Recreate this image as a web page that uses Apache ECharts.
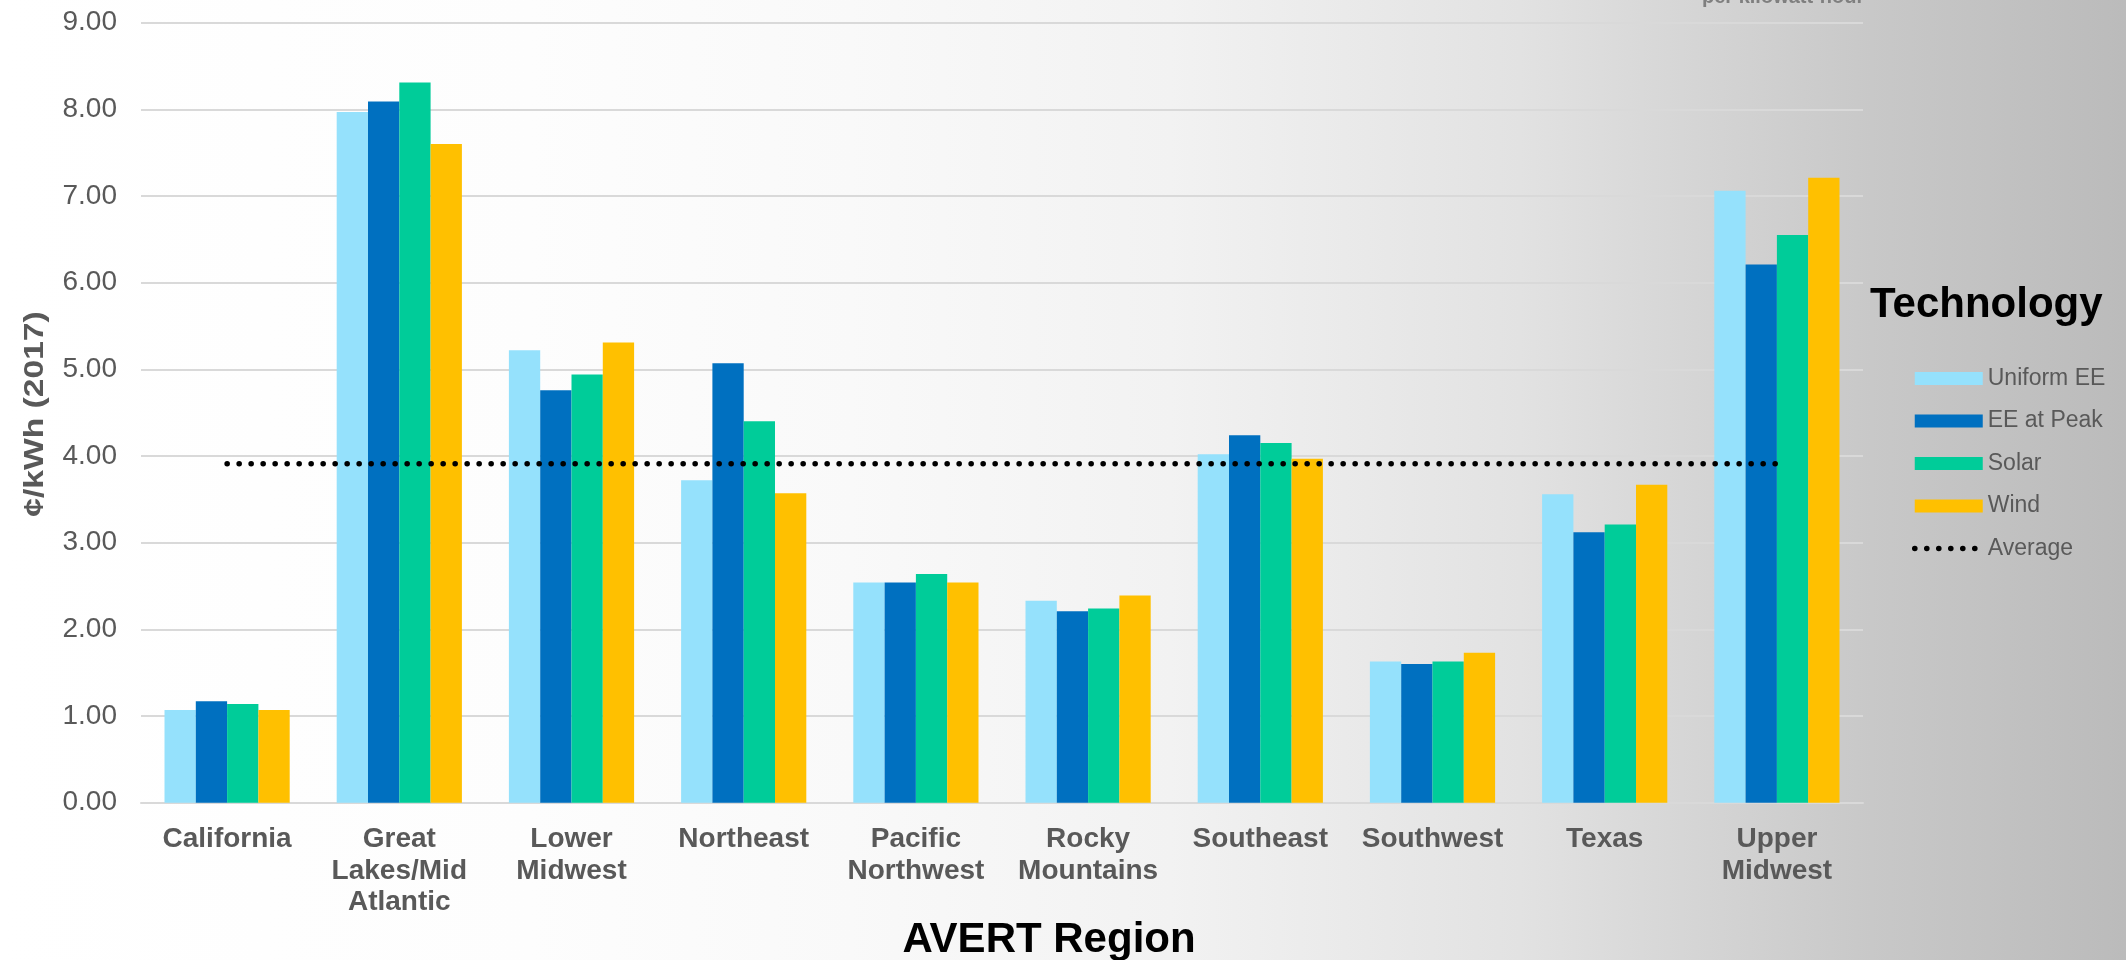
<!DOCTYPE html>
<html>
<head>
<meta charset="utf-8">
<script src="https://cdn.jsdelivr.net/npm/echarts@6/dist/echarts.min.js"></script>
<style>
html,body{margin:0;padding:0;width:2126px;height:960px;overflow:hidden;
background:linear-gradient(to right,#ffffff 0%,#fdfdfd 25%,#f9f9f9 40%,#f2f2f2 55%,#e2e2e2 71.5%,#c8c8c8 88%,#bbbbbb 100%);}
#chart{width:2126px;height:960px;}
</style>
</head>
<body>
<div id="chart"></div>
<script>
var categories = ['California','Great\nLakes/Mid\nAtlantic','Lower\nMidwest','Northeast','Pacific\nNorthwest','Rocky\nMountains','Southeast','Southwest','Texas','Upper\nMidwest'];
var uniformEE = [1.07, 7.97, 5.22, 3.72, 2.54, 2.33, 4.02, 1.63, 3.56, 7.06];
var eeAtPeak  = [1.17, 8.09, 4.76, 5.07, 2.54, 2.21, 4.24, 1.60, 3.12, 6.21];
var solar     = [1.14, 8.31, 4.94, 4.40, 2.64, 2.24, 4.15, 1.63, 3.21, 6.55];
var wind      = [1.07, 7.60, 5.31, 3.57, 2.54, 2.39, 3.97, 1.73, 3.67, 7.21];
var average   = [3.91, 3.91, 3.91, 3.91, 3.91, 3.91, 3.91, 3.91, 3.91, 3.91];
var yTicks    = [0, 1, 2, 3, 4, 5, 6, 7, 8, 9];

var chart = echarts.init(document.getElementById('chart'), null, {renderer:'canvas'});
var FONT = 'Liberation Sans, Arial, sans-serif';
var dotStyle = {color:'#000000', width:5.5, type:[0.1, 11.9], cap:'round'};
function bar(name, data, color){
  return {name:name, type:'bar', data:data, barWidth:31.3, barGap:'0%',
    itemStyle:{color:color}, z:2};
}
chart.setOption({
  backgroundColor:'transparent',
  animation:false,
  textStyle:{fontFamily:FONT},
  grid:{left:141, right:263, top:22.7, bottom:157.3, containLabel:false},
  xAxis:{type:'category', data:categories, boundaryGap:true,
    axisLine:{show:true, lineStyle:{color:'#d9d9d9', width:2}},
    axisTick:{show:false},
    axisLabel:{color:'#595959', fontFamily:FONT, fontSize:28, fontWeight:'bold', lineHeight:31.5, margin:21, interval:0}
  },
  yAxis:{type:'value', min:yTicks[0], max:yTicks[yTicks.length-1], interval:1,
    axisLine:{show:false}, axisTick:{show:false},
    splitLine:{lineStyle:{color:'#d9d9d9', width:2}},
    axisLabel:{color:'#595959', fontFamily:FONT, fontSize:28, margin:24,
      formatter:function(v){return v.toFixed(2);}}
  },
  legend:{orient:'vertical', left:1907, top:362, itemWidth:68, itemHeight:13, itemGap:19.5,
    textStyle:{color:'#595959', fontFamily:FONT, fontSize:23},
    data:[{name:'Uniform EE', icon:'rect'},{name:'EE at Peak', icon:'rect'},{name:'Solar', icon:'rect'},{name:'Wind', icon:'rect'},
      {name:'Average', itemStyle:{opacity:0}, lineStyle:dotStyle}]
  },
  graphic:[
    {type:'text', left:1870, top:284, style:{text:'Technology', font:'bold 42px '+FONT, fill:'#000000'}},
    {type:'text', x:1049, y:940, style:{text:'AVERT Region', font:'bold 42px '+FONT, fill:'#000000', align:'center', verticalAlign:'middle'}},
    {type:'text', x:35, y:414, rotation:Math.PI/2, scaleX:1.2, style:{text:'¢/kWh (2017)', font:'bold 28px '+FONT, fill:'#595959', align:'center', verticalAlign:'middle'}},
    {type:'text', left:1702, top:-13, style:{text:'per kilowatt-hour', font:'bold 20px '+FONT, fill:'#7f7f7f'}}
  ],
  series:[
    bar('Uniform EE', uniformEE, '#95e1fc'),
    bar('EE at Peak', eeAtPeak, '#0070c0'),
    bar('Solar', solar, '#00cc99'),
    bar('Wind', wind, '#ffc000'),
    {name:'Average', type:'line', data:average, symbol:'none', z:5,
      lineStyle:dotStyle, itemStyle:{color:'#000000'}}
  ]
});
</script>
</body>
</html>
